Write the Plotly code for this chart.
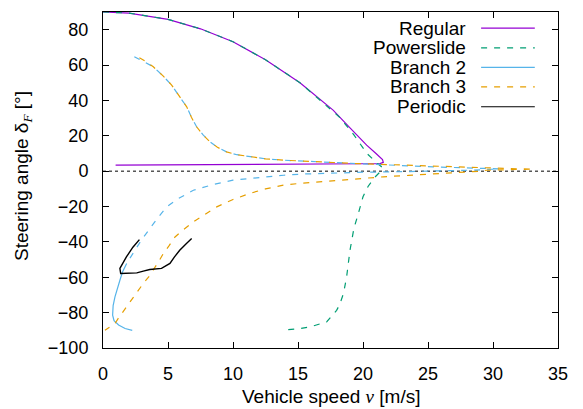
import plotly.graph_objects as go

# Bifurcation branches: vehicle speed v [m/s] vs. front steering angle delta_F [deg]
regular_v = [0, 2, 5, 7.5, 10, 12.5, 15.15, 17.7, 19.0, 20.28, 21.0, 21.3, 21.5, 21.56,
             21.3, 20, 15, 10, 5, 0.97]
regular_d = [90, 89.4, 85.8, 80.5, 73.2, 63, 50, 34.5, 24.5, 14.7, 10, 8.1, 6.5, 5.0,
             4.3, 4.2, 4.0, 3.8, 3.6, 3.4]

powerslide_v = [0, 2, 5, 7.5, 10, 12.5, 15.15, 17, 18.2, 19.3, 20.3, 21.1, 21.5, 21.3,
                20.9, 20.4, 20.0, 19.64, 19.3, 19.0, 18.74, 18.5, 18.2, 17.97, 17.2,
                15.9, 15.15, 13.75]
powerslide_d = [90, 89.4, 85.8, 80.5, 73.2, 63, 50, 38.5, 30.5, 20.5, 10, 4.5, 2.0, -0.5,
                -3.5, -8.5, -14.5, -24, -32.4, -44.7, -59.8, -69.2, -75.5, -78.7, -85.3,
                -88.1, -89, -90]

# Branch 2: unstable (dashed) part, then stable (solid) part
branch2_unstable_v = [2.41, 3.0, 3.87, 4.6, 5.28, 5.9, 6.44, 6.8, 7.2, 7.7, 8.23, 8.8, 9.5,
                      10.3, 11.3, 12.5, 13.9, 15.5, 17.7, 19.5, 21.56, 23.5, 25.4, 28, 30.5,
                      28.5, 26, 23, 20, 17.7, 15.5, 13.9, 12, 10, 8.5, 6.95, 5.8, 4.9, 4.2,
                      3.6, 3.0, 2.46, 2.1, 1.82]
branch2_unstable_d = [64.7, 62.5, 59, 54, 48.7, 42, 36.4, 30.5, 25.1, 20.5, 16.6, 13.5, 10.9,
                      9.3, 8.1, 7.0, 6.2, 5.5, 4.9, 4.3, 3.8, 3.0, 2.4, 1.9, 1.3,
                      0.6, 0.0, -0.3, -0.6, -0.9, -1.6, -2.3, -3.5, -5.1, -7.5, -10.8, -15.5,
                      -20.2, -26.5, -32.4, -38.5, -44.7, -49, -52.2]
branch2_stable_v = [1.82, 1.5, 1.3, 1.1, 0.92, 0.78, 0.74, 0.85, 1.2, 1.7, 2.25]
branch2_stable_d = [-52.2, -57, -61.7, -66.5, -71.1, -76, -81.5, -84.5, -87, -89, -90]

branch3_v = [2.8, 3.3, 3.87, 4.6, 5.28, 5.9, 6.44, 6.8, 7.2, 7.7, 8.23, 8.8, 9.5, 10.3, 11.3,
             12.5, 13.9, 15.5, 17.7, 19.5, 21.56, 23.5, 25.4, 28, 30.5, 32, 33.1,
             32, 30.5, 29.5, 29, 27, 25.4, 23.5, 21.56, 19.0, 17.7, 16.4, 15.15, 13.9,
             12.5, 11.3, 10, 8.75, 7.8, 6.95, 6.2, 5.54, 5.1, 4.64, 4.25, 3.87, 3.5, 3.1,
             2.7, 2.33, 1.9, 1.44, 1.15, 0.92, 0.5, 0.15]
branch3_d = [64.1, 62, 59, 54, 48.7, 42, 36.4, 30.5, 25.1, 20.5, 16.6, 13.5, 10.9, 9.3, 8.1,
             7.0, 6.2, 5.5, 4.9, 4.3, 3.8, 3.2, 2.6, 2.0, 1.5, 1.3, 1.2,
             1.1, 1.0, 0.5, 0.0, -1.0, -1.7, -2.4, -3.2, -4.7, -5.4, -6.0, -6.9, -7.9,
             -10, -12.6, -16, -20.2, -24.5, -28.7, -33, -37.2, -42, -46.6, -51.5, -56, -60,
             -63.5, -67.5, -71.1, -76, -80.5, -83.5, -86.2, -88.5, -90]

periodic_v = [2.8, 2.3, 1.8, 1.5, 1.3, 1.36, 2.0, 2.6, 3.1, 3.6, 4.5, 5.15, 5.5, 5.9, 6.4, 6.82]
periodic_d = [-38.7, -43, -48.5, -52, -55, -57.9, -57.7, -57.5, -56.5, -55.6, -55, -52.2,
              -48.5, -44.7, -41, -38.1]

x_ticks = [0, 5, 10, 15, 20, 25, 30, 35]
y_ticks = [-100, -80, -60, -40, -20, 0, 20, 40, 60, 80]

legend_names = ["Regular", "Powerslide", "Branch 2", "Branch 3", "Periodic"]
PURPLE, GREEN, BLUE, ORANGE, BLACK = "#9400d3", "#009e73", "#56b4e9", "#e69f00", "#000000"
legend_colors = [PURPLE, GREEN, BLUE, ORANGE, BLACK]
legend_dashes = ["solid", "6px,7px", "solid", "6px,7px", "solid"]

FONT = "Liberation Sans, Arial, sans-serif"
DASH = "6px,7px"

fig = go.Figure()


def add(x, y, color, dash, width=1.2):
    fig.add_trace(go.Scatter(x=x, y=y, mode="lines", showlegend=False, hoverinfo="skip",
                             line=dict(color=color, width=width, dash=dash)))


add(regular_v, regular_d, PURPLE, "solid")
add(powerslide_v, powerslide_d, GREEN, DASH)
add(branch2_unstable_v, branch2_unstable_d, BLUE, DASH)
add(branch2_stable_v, branch2_stable_d, BLUE, "solid")
add(branch3_v, branch3_d, ORANGE, DASH)
add(periodic_v, periodic_d, BLACK, "solid", 1.4)

# dotted zero reference line
fig.add_shape(type="line", xref="paper", yref="y", x0=0, x1=1, y0=0, y1=0,
              line=dict(color="black", width=1, dash="dot"), layer="below")

# key: right-aligned labels with sample lines to their right
row_y = [0.952, 0.893, 0.835, 0.777, 0.718]
for name, color, dash, yy in zip(legend_names, legend_colors, legend_dashes, row_y):
    fig.add_annotation(x=0.802, y=yy, xref="paper", yref="paper", text=name,
                       showarrow=False, xanchor="right", yanchor="middle",
                       font=dict(family=FONT, size=19, color="black"))
    fig.add_shape(type="line", xref="paper", yref="paper", x0=0.831, x1=0.949,
                  y0=yy, y1=yy, line=dict(color=color, width=1.2, dash=dash))

# axis titles
fig.add_annotation(x=(23 - 103) / 455, y=0.512, xref="paper", yref="paper",
                   xanchor="center", yanchor="middle", textangle=-90, showarrow=False,
                   text="Steering angle δ<sub><i style='font-family:Liberation Serif'>F</i></sub> [°]",
                   font=dict(family=FONT, size=19, color="black"))
fig.add_annotation(x=0.5, y=(348 - 396) / 336, xref="paper", yref="paper",
                   xanchor="center", yanchor="middle", showarrow=False,
                   text="Vehicle speed <i style='font-family:Liberation Serif'>v</i> [m/s]",
                   font=dict(family=FONT, size=19, color="black"))

axis_common = dict(showline=True, linecolor="black", linewidth=1, mirror="ticks",
                   ticks="inside", ticklen=6, tickwidth=1, tickcolor="black",
                   showgrid=False, zeroline=False, automargin=False,
                   tickfont=dict(family=FONT, size=18, color="black"))

fig.update_layout(
    width=583, height=409,
    margin=dict(l=103, r=25, t=12, b=61, autoexpand=False),
    paper_bgcolor="white", plot_bgcolor="white",
    xaxis=dict(range=[0, 35], tickvals=x_ticks, ticklabelstandoff=9, **axis_common),
    yaxis=dict(range=[-100, 90], tickvals=y_ticks, ticklabelstandoff=10, **axis_common),
)

fig.write_html("out.html")
